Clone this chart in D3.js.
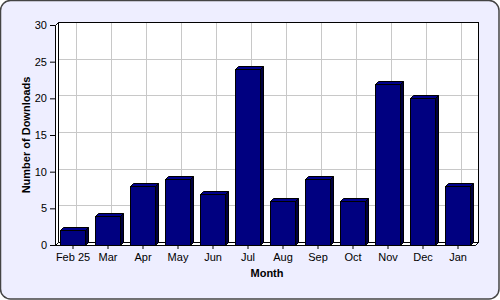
<!DOCTYPE html>
<html>
<head>
<meta charset="utf-8">
<script src="https://cdn.jsdelivr.net/npm/d3@7"></script>
<style>
  body { margin: 0; background: #fff; }
  svg { display: block; font-family: "Liberation Sans", Arial, sans-serif; }
</style>
</head>
<body>
<div id="chart"></div>
<script>
let months = ["Feb 25", "Mar", "Apr", "May", "Jun", "Jul", "Aug", "Sep", "Oct", "Nov", "Dec", "Jan"]
let downloads = [2, 4, 8, 9, 7, 24, 6, 9, 6, 22, 20, 8]
let yTicks = [0, 5, 10, 15, 20, 25, 30]

let width = 500, height = 300
let plotLeft = 55, plotRight = 475, plotTop = 25, plotBottom = 245
let depth = 3

let colors = {
    bg: "#eeeeff",
    frame: "#444",
    grid: "#c8c8c8",
    front: "#000080",
    top: "#00008c",
    side: "#000040"
}

const svg = d3.select('#chart')
    .append('svg')
    .attr('width', width)
    .attr('height', height)

// outer panel
svg.append('rect')
    .attr('x', 0.5).attr('y', 0.5)
    .attr('width', width - 1.5).attr('height', height - 1.5)
    .attr('rx', 10).attr('ry', 10)
    .attr('fill', colors.bg)
    .attr('stroke', colors.frame)
    .attr('stroke-width', 1.5)

const x = d3.scaleBand()
    .domain(months)
    .range([plotLeft, plotRight])
    .paddingInner(0.28)
    .paddingOuter(0.14)

const xc = d3.scalePoint()
    .domain(months)
    .range([plotLeft, plotRight])
    .padding(0.5)

const y = d3.scaleLinear()
    .domain([0, 30])
    .range([plotBottom, plotTop])

// back wall
svg.append('rect')
    .attr('x', plotLeft + depth + 0.5)
    .attr('y', plotTop - depth + 0.5)
    .attr('width', plotRight - plotLeft)
    .attr('height', plotBottom - plotTop)
    .attr('fill', 'white')
    .attr('stroke', 'black')

// wall grid
let grid = svg.append('g').attr('stroke', colors.grid).attr('stroke-width', 1)
grid.selectAll('.hgrid')
    .data(yTicks.filter(d => d > 0 && d < 30))
    .join('line')
    .attr('x1', plotLeft + depth + 1).attr('x2', plotRight + depth)
    .attr('y1', d => Math.round(y(d) - depth) + 0.5)
    .attr('y2', d => Math.round(y(d) - depth) + 0.5)
grid.selectAll('.vgrid')
    .data(months)
    .join('line')
    .attr('x1', d => Math.round(xc(d) + depth) + 0.5)
    .attr('x2', d => Math.round(xc(d) + depth) + 0.5)
    .attr('y1', plotTop - depth + 1).attr('y2', plotBottom - depth)

// left side wall and floor
const pts = arr => arr.map(p => p.map(v => v + 0.5).join(',')).join(' ')
svg.append('polygon')
    .attr('points', pts([[plotLeft, plotTop], [plotLeft + depth, plotTop - depth], [plotLeft + depth, plotBottom - depth], [plotLeft, plotBottom]]))
    .attr('fill', 'white')
    .attr('stroke', 'black')
svg.append('polygon')
    .attr('points', pts([[plotLeft, plotBottom], [plotLeft + depth, plotBottom - depth], [plotRight + depth, plotBottom - depth], [plotRight, plotBottom]]))
    .attr('fill', 'white')
    .attr('stroke', 'black')

// bars
let bars = svg.append('g').attr('stroke', 'black').attr('stroke-width', 1)
months.forEach((m, i) => {
    let x0 = Math.round(x(m)) + 0.5
    let x1 = Math.round(x(m) + x.bandwidth()) + 0.5
    let yv = Math.round(y(downloads[i])) + 0.5
    let yb = plotBottom + 0.5
    let g = bars.append('g')
    g.append('polygon')
        .attr('points', `${x1},${yv} ${x1 + depth},${yv - depth} ${x1 + depth},${yb - depth} ${x1},${yb}`)
        .attr('fill', colors.side)
    g.append('polygon')
        .attr('points', `${x0},${yv} ${x0 + depth},${yv - depth} ${x1 + depth},${yv - depth} ${x1},${yv}`)
        .attr('fill', colors.top)
    g.append('rect')
        .attr('x', x0).attr('y', yv)
        .attr('width', x1 - x0).attr('height', yb - yv)
        .attr('fill', colors.front)
})

// axes
const yAxis = d3.axisLeft(y).tickValues(yTicks).tickSizeInner(5).tickSizeOuter(0).tickPadding(3)
const yAxisDraw = svg.append('g')
    .attr('transform', `translate(${plotLeft},0)`)
    .call(yAxis)
yAxisDraw.selectAll('text').attr('font-size', 11).attr('fill', 'black').attr('font-family', '"Liberation Sans", Arial, sans-serif')
yAxisDraw.selectAll('line, path').attr('stroke', 'black')

const xAxis = d3.axisBottom(xc).tickSizeInner(4).tickSizeOuter(0).tickPadding(4)
const xAxisDraw = svg.append('g')
    .attr('transform', `translate(0,${plotBottom})`)
    .call(xAxis)
xAxisDraw.selectAll('text').attr('font-size', 11).attr('fill', 'black').attr('font-family', '"Liberation Sans", Arial, sans-serif')
xAxisDraw.selectAll('line, path').attr('stroke', 'black')

// titles
svg.append('text')
    .text('Month')
    .attr('x', (plotLeft + plotRight) / 2 + 2)
    .attr('y', 277)
    .attr('text-anchor', 'middle')
    .attr('font-size', 11)
    .attr('font-weight', 'bold')

svg.append('text')
    .text('Number of Downloads')
    .attr('transform', `translate(30,${(plotTop + plotBottom) / 2}) rotate(-90)`)
    .attr('text-anchor', 'middle')
    .attr('font-size', 11)
    .attr('font-weight', 'bold')
</script>
</body>
</html>
